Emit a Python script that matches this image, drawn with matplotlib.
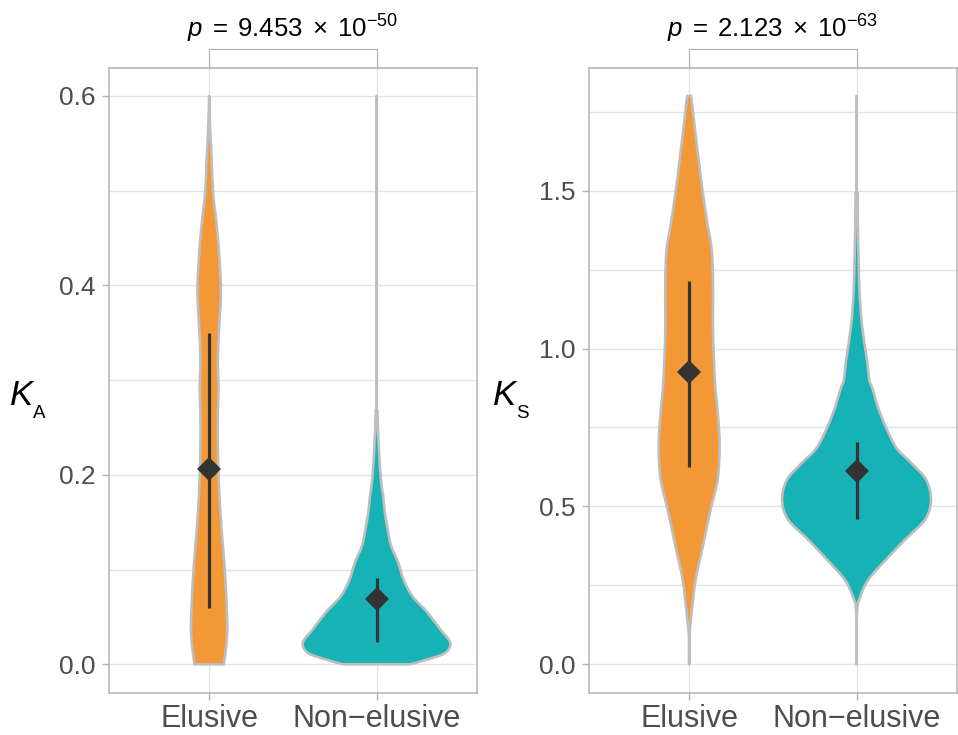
import numpy as np
import matplotlib
matplotlib.use("Agg")
import matplotlib.pyplot as plt
from matplotlib.path import Path
from matplotlib.patches import PathPatch
from matplotlib.ticker import FixedLocator

plt.rcParams["font.family"] = ["Liberation Sans", "DejaVu Sans"]
plt.rcParams["mathtext.fontset"] = "custom"
plt.rcParams["mathtext.rm"] = "Liberation Sans"
plt.rcParams["mathtext.it"] = "Liberation Sans:italic"

# ---- data ---------------------------------------------------------------
categories = ["Elusive", "Non\u2212elusive"]

# KA violin outlines: value levels and half-widths (category units)
ka_elusive_y = [0.600, 0.568, 0.533, 0.497, 0.462, 0.427, 0.392, 0.357, 0.322, 0.290,
                0.265, 0.230, 0.195, 0.160, 0.125, 0.090, 0.055, 0.033, 0.012, 0.000]
ka_elusive_hw = [0.000, 0.005, 0.015, 0.024, 0.046, 0.062, 0.070, 0.060, 0.052, 0.056,
                 0.052, 0.052, 0.057, 0.067, 0.082, 0.097, 0.106, 0.108, 0.097, 0.087]
ka_nonelusive_y = [0.600, 0.300, 0.265, 0.230, 0.195, 0.178, 0.160, 0.142, 0.125, 0.107,
                   0.090, 0.072, 0.055, 0.037, 0.023, 0.012, 0.005, 0.000]
ka_nonelusive_hw = [0.000, 0.000, 0.005, 0.013, 0.026, 0.039, 0.050, 0.067, 0.087, 0.130,
                    0.160, 0.213, 0.302, 0.380, 0.440, 0.410, 0.302, 0.201]

# KS violin outlines
ks_elusive_y = [1.800, 1.702, 1.597, 1.492, 1.386, 1.334, 1.281, 1.176, 1.070, 0.965,
                0.870, 0.796, 0.691, 0.585, 0.480, 0.374, 0.269, 0.164, 0.079, 0.000]
ks_elusive_hw = [0.012, 0.033, 0.057, 0.082, 0.112, 0.130, 0.139, 0.143, 0.142, 0.148,
                 0.157, 0.171, 0.182, 0.170, 0.124, 0.082, 0.039, 0.015, 0.000, 0.000]
ks_nonelusive_y = [1.800, 1.500, 1.492, 1.386, 1.281, 1.176, 1.070, 0.965, 0.901, 0.870,
                   0.796, 0.691, 0.638, 0.585, 0.522, 0.459, 0.395, 0.332, 0.269, 0.216,
                   0.164, 0.000]
ks_nonelusive_hw = [0.000, 0.000, 0.005, 0.008, 0.012, 0.018, 0.033, 0.062, 0.076, 0.097,
                    0.140, 0.231, 0.326, 0.415, 0.445, 0.410, 0.290, 0.177, 0.072, 0.023,
                    0.002, 0.000]

# medians and interquartile ranges
ka_median = [0.206, 0.0685]
ka_q1 = [0.059, 0.024]
ka_q3 = [0.350, 0.091]
ks_median = [0.926, 0.6135]
ks_q1 = [0.625, 0.461]
ks_q3 = [1.214, 0.704]

# Wilcoxon p-values (mantissa, exponent)
ka_p = ("9.453", -50)
ks_p = ("2.123", -63)

ka_ticks = [0.0, 0.2, 0.4, 0.6]
ks_ticks = [0.0, 0.5, 1.0, 1.5]

# ---- style --------------------------------------------------------------
fill_colors = ["#F39837", "#16B2B6"]
outline = "#BEBEBE"
frame = "#B3B3B3"
grid = "#E3E3E3"
dark = "#333333"
W, H = 958, 735

fig = plt.figure(figsize=(W / 100, H / 100), dpi=100)


def px_box(x0, x1, y0, y1):
    return [x0 / W, 1 - y1 / H, (x1 - x0) / W, (y1 - y0) / H]


def smooth_segments(pts):
    """Bezier control points (Catmull-Rom) through a sequence of outline points."""
    verts, codes = [], []
    n = len(pts)
    for i in range(n - 1):
        p0 = pts[max(i - 1, 0)]
        p1 = pts[i]
        p2 = pts[i + 1]
        p3 = pts[min(i + 2, n - 1)]
        c1 = p1 + (p2 - p0) / 6.0
        c2 = p2 - (p3 - p1) / 6.0
        verts += [c1, c2, p2]
        codes += [Path.CURVE4] * 3
    return verts, codes


def violin_patch(x, ys, hw, color):
    ys = np.asarray(ys, float)
    hw = np.asarray(hw, float)
    right = np.column_stack([x + hw, ys])            # top -> bottom
    left = np.column_stack([x - hw, ys])[::-1]       # bottom -> top
    verts = [right[0]]
    codes = [Path.MOVETO]
    v, c = smooth_segments(right)
    verts += v
    codes += c
    verts.append(left[0])
    codes.append(Path.LINETO)
    v, c = smooth_segments(left)
    verts += v
    codes += c
    verts.append(right[0])
    codes.append(Path.CLOSEPOLY)
    return PathPatch(Path(np.array(verts), codes), facecolor=color,
                     edgecolor=outline, lw=1.9, joinstyle="round", zorder=2)


def panel(rect, shapes, med, q1, q3, ticks, pval, sym, sub, label_x):
    ax = fig.add_axes(rect)
    span = max(max(s[0]) for s in shapes)
    pad = 0.05 * span
    ax.set_ylim(-pad, span + pad)
    ax.set_xlim(0.4, 2.6)

    step = ticks[1] - ticks[0]
    minors = [t + step / 2 for t in ticks if t + step / 2 < span + pad]
    ax.yaxis.set_major_locator(FixedLocator(ticks))
    ax.yaxis.set_minor_locator(FixedLocator(minors))
    ax.set_yticklabels([f"{t:.1f}" for t in ticks])
    ax.set_xticks([1, 2])
    ax.set_xticklabels(categories)

    ax.grid(True, which="both", axis="y", color=grid, lw=1.0, zorder=0)
    ax.grid(True, which="major", axis="x", color=grid, lw=1.0, zorder=0)
    ax.set_axisbelow(True)
    for s in ax.spines.values():
        s.set_color(frame)
        s.set_linewidth(1.1)
    ax.tick_params(axis="both", which="major", color=frame, width=1.0, length=5.0,
                   labelcolor="#4D4D4D")
    ax.tick_params(axis="y", which="major", labelsize=19, pad=4.5)
    ax.tick_params(axis="x", which="major", labelsize=22, pad=3)
    ax.tick_params(axis="y", which="minor", length=0)

    for i, (ys, hw) in enumerate(shapes):
        x = i + 1
        ax.add_patch(violin_patch(x, ys, hw, fill_colors[i]))
        ax.plot([x, x], [q1[i], q3[i]], color=dark, lw=2.3, solid_capstyle="butt",
                zorder=3)
        ax.plot([x], [med[i]], marker="D", ms=12.5, color=dark, mew=0, zorder=4)

    # significance bracket
    yr = span + 2 * pad
    yb = span + pad + 0.03 * yr
    ax.plot([1, 1, 2, 2], [span + pad, yb, yb, span + pad], color=frame, lw=0.9,
            clip_on=False, zorder=5)
    mant, ex = pval
    ax.text(1.5, yb + 0.0175 * yr,
            rf"$p\;=\;{mant}\;\times\;10^{{{ex}}}$".replace("-", "\u2212"),
            ha="center", va="baseline", fontsize=18.5, color="black")

    # axis title: italic K with upright subscript
    fig.text(label_x / W, 1 - 405 / H, sym, fontsize=25, style="italic",
             ha="left", va="baseline")
    fig.text((label_x + 23) / W, 1 - 418 / H, sub, fontsize=13.5,
             ha="left", va="baseline")
    return ax


panel(px_box(108.7, 477, 67.5, 692.7),
      [(ka_elusive_y, ka_elusive_hw), (ka_nonelusive_y, ka_nonelusive_hw)],
      ka_median, ka_q1, ka_q3, ka_ticks, ka_p, "K", "A", 10)
panel(px_box(588.7, 957, 67.5, 692.7),
      [(ks_elusive_y, ks_elusive_hw), (ks_nonelusive_y, ks_nonelusive_hw)],
      ks_median, ks_q1, ks_q3, ks_ticks, ks_p, "K", "S", 493)

fig.savefig("out.png", dpi=100)
